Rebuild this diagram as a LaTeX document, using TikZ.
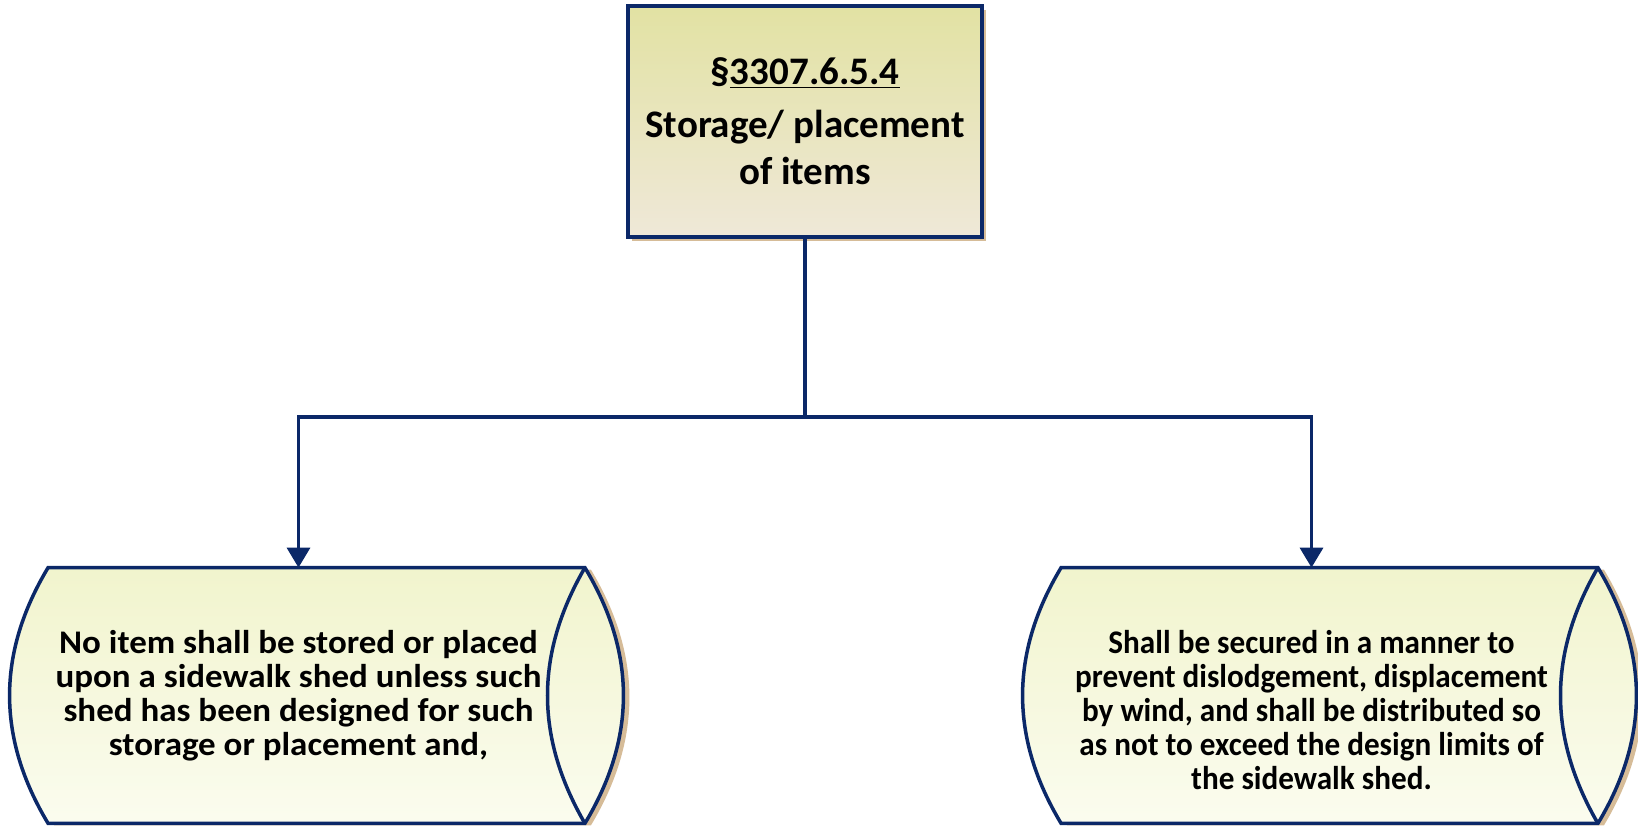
\documentclass[tikz,border=0pt]{standalone}
\usepackage{fontspec}
\setmainfont{Carlito}
\newfontfamily\shedwide[FakeStretch=1.06]{Carlito}
\newfontfamily\shednarrow[FakeStretch=0.945]{Carlito}
\usepackage{tikz}
\usetikzlibrary{calc, arrows.meta, shadows}
\pgfdeclarelayer{background}
\pgfsetlayers{background,main}
\definecolor{navy}{HTML}{0B2868}
\definecolor{headtop}{HTML}{E2E2A3}
\definecolor{headbot}{HTML}{EFE8D8}
\definecolor{shedtop}{HTML}{F1F4CD}
\definecolor{shedbot}{HTML}{FBFCEF}
\definecolor{shadowtan}{HTML}{D6BC98}
\tikzstyle{head}    = [rectangle, minimum width=177pt, minimum height=115.5pt, align=center, draw=navy, line width=1.75pt, top color=headtop, bottom color=headbot, drop shadow={shadow xshift=2pt, shadow yshift=-2pt, fill=shadowtan, opacity=1}, font=\bfseries\fontsize{19.5}{23.5}\selectfont]
\tikzstyle{shed}    = [rectangle, minimum width=250pt, minimum height=127.5pt, align=center, font=\bfseries\fontsize{16.5}{17}\selectfont]
\tikzstyle{outline} = [draw=navy, line width=1.75pt, top color=shedtop, bottom color=shedbot, drop shadow={shadow xshift=3pt, shadow yshift=-1pt, fill=shadowtan, opacity=1}]
\tikzstyle{line}    = [draw=navy, line width=1.75pt]
\tikzstyle{arrow}   = [line, -{Triangle[width=11.5pt, length=10pt]}]

\begin{document}
\begin{tikzpicture}[node distance=287pt]
      \useasboundingbox (0,0) rectangle (819pt,-413pt);

      \node (title)  [head] at (402.5pt,-60.75pt) {\S\underline{3307.6.5.4}\\[3pt] Storage/ placement\\ of items};

      \node (storeA) [shed, below of=title, xshift=-253.25pt, font=\shedwide\bfseries\fontsize{16.5}{17}\selectfont] {No item shall be stored or placed\\ upon a sidewalk shed unless such\\ shed has been designed for such\\ storage or placement and,};
      \node (storeB) [shed, below of=title, xshift=253.25pt, font=\shednarrow\bfseries\fontsize{16.5}{17}\selectfont]  {\mbox{}\\[9.5pt] Shall be secured in a manner to\\ prevent dislodgement, displacement\\ by wind, and shall be distributed so\\ as not to exceed the design limits of\\ the sidewalk shed.};

      \coordinate (split) at ($(title.south)+(0,-89pt)$);

      % shed outlines behind the text
      \begin{pgfonlayer}{background}
        \path [outline] (storeA.south west) to[bend left=31] (storeA.north west) -- ($(storeA.north east)+(18pt,0)$) to[bend left=31] ($(storeA.south east)+(18pt,0)$) -- cycle;
        \draw [line] ($(storeA.north east)+(18pt,0)$) to[bend right=30] ($(storeA.south east)+(18pt,0)$);

        \path [outline] (storeB.south west) to[bend left=31] (storeB.north west) -- ($(storeB.north east)+(18pt,0)$) to[bend left=31] ($(storeB.south east)+(18pt,0)$) -- cycle;
        \draw [line] ($(storeB.north east)+(18pt,0)$) to[bend right=30] ($(storeB.south east)+(18pt,0)$);
      \end{pgfonlayer}

      % title to sheds
      \draw [line]  (title.south) -- (split);
      \draw [arrow] (split) -| (storeA.north);
      \draw [arrow] (split) -| (storeB.north);
    \end{tikzpicture}
\end{document}
